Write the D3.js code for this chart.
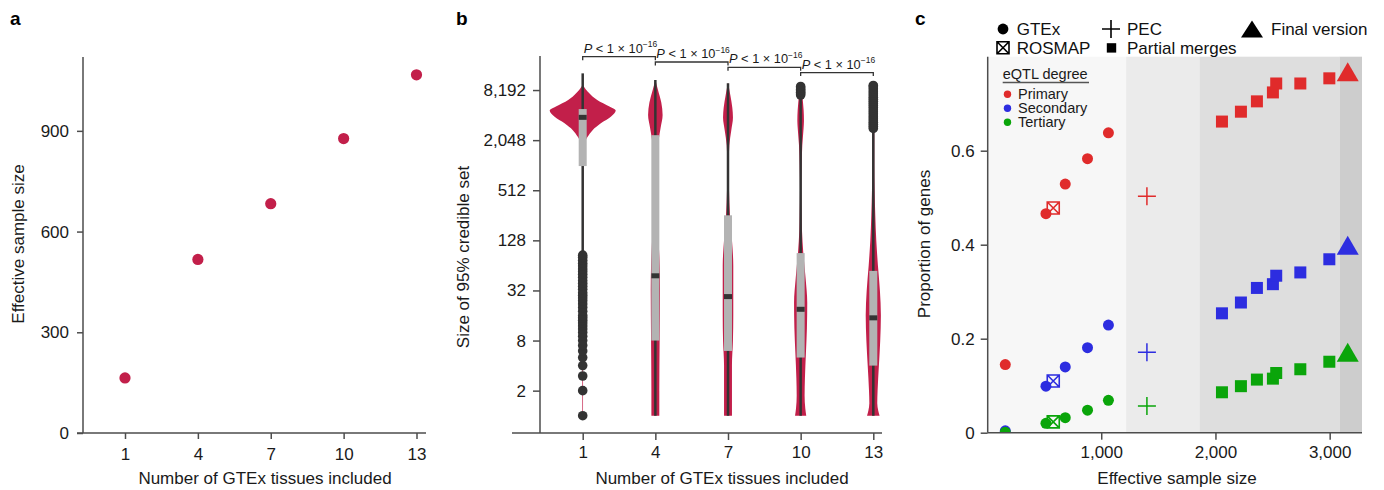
<!DOCTYPE html>
<html><head><meta charset="utf-8">
<script src="https://cdn.jsdelivr.net/npm/d3@7"></script>
<style>
body{margin:0;background:#fff}
svg{display:block;font-family:"Liberation Sans",Arial,Helvetica,sans-serif}
</style></head><body>
<svg id="chart" width="1384" height="490"></svg>
<script>
// ---------------- DATA ----------------
// Panel a
const tissues = [1, 4, 7, 10, 13];
const effectiveSampleSize = [164, 517, 683, 877, 1067];
const aYTicks = [0, 300, 600, 900];

// Panel b (size of 95% credible set, log2 axis)
const bYTicks = [2, 8, 32, 128, 512, 2048, 8192];
const bYTickLabels = ["2", "8", "32", "128", "512", "2,048", "8,192"];
const medianSize = [3850, 48, 27, 19, 15];
const q1Size = [1000, 8, 6, 5, 4];
const q3Size = [4840, 2350, 256, 90, 55];
const whiskerLow = [90, 1, 1, 1, 1];
const whiskerHigh = [13000, 10800, 9900, 6900, 2700];
// violin outlines: set sizes and relative half-widths
const violin1Size = [9410, 7485, 6208, 5184, 4640, 3929, 3258, 2702, 2257, 2048, 1663, 1024, 128, 1];
const violin1Width = [0, 0.2, 0.44, 0.81, 1.0, 0.86, 0.55, 0.3, 0.15, 0.09, 0.04, 0.02, 0.015, 0.01];
const violin4Size = [10809, 8192, 5793, 4096, 2896, 2048, 1024, 256, 64, 32, 8, 2, 1];
const violin4Width = [0, 0.08, 0.18, 0.22, 0.16, 0.1, 0.06, 0.07, 0.13, 0.14, 0.13, 0.12, 0.12];
const violin7Size = [10086, 7131, 5043, 3822, 2702, 1783, 1024, 512, 256, 128, 64, 32, 16, 8, 4, 2, 1];
const violin7Width = [0, 0.07, 0.13, 0.15, 0.1, 0.04, 0.02, 0.03, 0.06, 0.12, 0.16, 0.16, 0.16, 0.15, 0.12, 0.12, 0.12];
const violin10Size = [10086, 7131, 4705, 3500, 2896, 1783, 1024, 512, 256, 169, 91, 45, 23, 11.3, 5.66, 2.83, 1.74, 1.23, 1];
const violin10Width = [0.02, 0.05, 0.09, 0.1, 0.09, 0.05, 0.03, 0.02, 0.03, 0.04, 0.08, 0.15, 0.2, 0.19, 0.16, 0.13, 0.12, 0.14, 0.17];
const violin13Size = [10086, 4096, 2048, 1024, 512, 256, 128, 64, 32, 16, 8, 4, 2, 1.41, 1.15, 1];
const violin13Width = [0.02, 0.03, 0.03, 0.03, 0.04, 0.06, 0.09, 0.14, 0.2, 0.23, 0.21, 0.17, 0.13, 0.12, 0.15, 0.19];
const outliers1 = [1, 2, 3, 4, 5, 6, 7, 8, 9, 10, 11, 12, 13, 14, 15, 16, 18, 20, 22, 24, 26, 28, 30, 33, 36, 39, 42, 46, 50, 54, 58, 63, 68, 74, 80, 85];
const outliers10 = [7130, 7400, 7700, 8000, 8300, 8650, 9050];
const outliers13 = [2830, 3000, 3180, 3370, 3570, 3780, 4000, 4240, 4490, 4760, 5040, 5340, 5660, 6000, 6350, 6730, 7130, 7550, 8000, 8480, 8980, 9300];
const comparisonFrom = [1, 4, 7, 10];
const comparisonTo = [4, 7, 10, 13];

// Panel c
const cXTicks = [1000, 2000, 3000];
const cXTickLabels = ["1,000", "2,000", "3,000"];
const cYTicks = [0, 0.2, 0.4, 0.6];
const cYTickLabels = ["0", "0.2", "0.4", "0.6"];
const bandEdges = [0, 1218, 1860, 3086, 3283];
const degreeNames = ["Primary", "Secondary", "Tertiary"];
const gtexSize = [160, 516, 685, 880, 1063];
const gtexPrimary = [0.145, 0.466, 0.529, 0.583, 0.638];
const gtexSecondary = [0.004, 0.099, 0.140, 0.181, 0.229];
const gtexTertiary = [0.001, 0.020, 0.032, 0.048, 0.069];
const rosmapSize = 580;
const rosmapValues = [0.478, 0.110, 0.023];
const pecSize = 1400;
const pecValues = [0.503, 0.171, 0.057];
const partialSize = [2057, 2223, 2363, 2503, 2532, 2743, 2997];
const partialPrimary = [0.662, 0.683, 0.705, 0.724, 0.743, 0.743, 0.754];
const partialSecondary = [0.254, 0.277, 0.308, 0.316, 0.334, 0.341, 0.369];
const partialTertiary = [0.086, 0.099, 0.113, 0.115, 0.127, 0.135, 0.151];
const finalSize = 3158;
const finalValues = [0.768, 0.399, 0.171];

// ---------------- STYLE ----------------
const crimson = "#c21f4a";
const boxGray = "#b3b3b3";
const dark = "#333333";
const axisColor = "#4d4d4d";
const seriesColors = ["#e02b2b", "#2d2de0", "#0aa50a"];
const bandShades = ["#f7f7f7", "#ebebeb", "#dedede", "#cdcdcd"];
const FS = 17;

const svg = d3.select("#chart");
svg.append("rect").attr("width", 1384).attr("height", 490).attr("fill", "#fff");

function styleAxis(g) {
  g.select(".domain").remove();
  g.selectAll(".tick line").attr("stroke", axisColor).attr("stroke-width", 1.5);
  g.selectAll(".tick text").attr("fill", "#1a1a1a").style("font-size", FS + "px")
    .style("font-family", '"Liberation Sans",Arial,sans-serif');
}
function axisLine(x1, y1, x2, y2) {
  svg.append("line").attr("x1", x1).attr("y1", y1).attr("x2", x2).attr("y2", y2)
    .attr("stroke", axisColor).attr("stroke-width", 1.5);
}
function title(x, y, txt, rotate) {
  const t = svg.append("text").attr("text-anchor", "middle").style("font-size", FS + "px").attr("fill", "#1a1a1a").text(txt);
  if (rotate) t.attr("transform", `translate(${x},${y}) rotate(-90)`);
  else t.attr("x", x).attr("y", y);
}
function panelLabel(x, y, txt) {
  svg.append("text").attr("x", x).attr("y", y).style("font-size", "19px").style("font-weight", "bold").text(txt);
}

// ---------------- PANEL A ----------------
panelLabel(10, 25, "a");
const xA = d3.scaleLinear().domain([1, 13]).range([125, 416.5]);
const yA = d3.scaleLinear().domain([0, 1120]).range([433, 57]);
axisLine(83, 57, 83, 433);
axisLine(77, 433, 426, 433);
svg.append("g").attr("transform", "translate(83,0)")
  .call(d3.axisLeft(yA).tickValues(aYTicks).tickSize(6).tickPadding(8)).call(styleAxis);
svg.append("g").attr("transform", "translate(0,433)")
  .call(d3.axisBottom(xA).tickValues(tissues).tickSize(6).tickPadding(9)).call(styleAxis);
svg.append("g").selectAll("circle").data(tissues).join("circle")
  .attr("cx", d => xA(d)).attr("cy", (d, i) => yA(effectiveSampleSize[i]))
  .attr("r", 5.6).attr("fill", crimson);
title(24, 244, "Effective sample size", true);
title(265, 484, "Number of GTEx tissues included", false);

// ---------------- PANEL B ----------------
panelLabel(456, 25, "b");
const xB = d3.scaleLinear().domain([1, 13]).range([582.7, 873.3]);
const yB = d3.scaleLog().base(2).domain([1, 8192]).range([415.7, 90.05]);
const wB = d3.scaleLinear().domain([0, 1]).range([0, 33]);
axisLine(540, 56, 540, 433);
axisLine(512, 433, 882, 433);
svg.append("g").attr("transform", "translate(540,0)")
  .call(d3.axisLeft(yB).tickValues(bYTicks).tickFormat((d, i) => bYTickLabels[i]).tickSize(7).tickPadding(7)).call(styleAxis);
svg.append("g").attr("transform", "translate(0,433)")
  .call(d3.axisBottom(xB).tickValues(tissues).tickSize(7).tickPadding(6)).call(styleAxis);

const violinSizes = [violin1Size, violin4Size, violin7Size, violin10Size, violin13Size];
const violinWidths = [violin1Width, violin4Width, violin7Width, violin10Width, violin13Width];
const outlierSets = [outliers1, [], [], outliers10, outliers13];
const gB = svg.append("g");
tissues.forEach((t, i) => {
  const pts = violinSizes[i].map((s, k) => ({ s, w: violinWidths[i][k] }));
  const area = d3.area().curve(d3.curveMonotoneY)
    .y(d => yB(d.s)).x0(d => xB(t) - wB(d.w)).x1(d => xB(t) + wB(d.w));
  gB.append("path").attr("d", area(pts)).attr("fill", crimson);
  // whisker
  gB.append("line").attr("x1", xB(t)).attr("x2", xB(t))
    .attr("y1", yB(whiskerHigh[i])).attr("y2", yB(whiskerLow[i]))
    .attr("stroke", dark).attr("stroke-width", 2.5);
  // box
  gB.append("rect").attr("x", xB(t) - 4).attr("width", 8)
    .attr("y", yB(q3Size[i])).attr("height", yB(q1Size[i]) - yB(q3Size[i]))
    .attr("fill", boxGray);
  // median
  gB.append("rect").attr("x", xB(t) - 4).attr("width", 8)
    .attr("y", yB(medianSize[i]) - 2.5).attr("height", 5).attr("fill", dark);
  // outliers
  gB.append("g").selectAll("circle").data(outlierSets[i]).join("circle")
    .attr("cx", xB(t)).attr("cy", d => yB(d)).attr("r", 4.8).attr("fill", dark);
});
// p-value brackets
comparisonFrom.forEach((a, i) => {
  const b = comparisonTo[i];
  const y = 56.7 + i * 5.3;
  gB.append("path").attr("d", `M${xB(a)},${y + 3.5}V${y}H${xB(b)}V${y + 3.5}`)
    .attr("fill", "none").attr("stroke", dark).attr("stroke-width", 1.3);
  const t = gB.append("text").attr("x", xB(a) + 1).attr("y", y - 4).style("font-size", "12.8px").attr("fill", "#1a1a1a");
  t.append("tspan").style("font-style", "italic").text("P");
  t.append("tspan").text(" < 1 × 10");
  t.append("tspan").attr("dy", -5.5).style("font-size", "8.5px").text("−16");
});
title(469, 257, "Size of 95% credible set", true);
title(722, 484, "Number of GTEx tissues included", false);

// ---------------- PANEL C ----------------
panelLabel(915, 25, "c");
const xC = d3.scaleLinear().domain([0, 3283]).range([987, 1362]);
const yC = d3.scaleLinear().domain([0, 0.8]).range([432.7, 56.7]);
const gC = svg.append("g");
svg.append("clipPath").attr("id", "clipC").append("rect")
  .attr("x", 987).attr("y", 56.7).attr("width", 375).attr("height", 376);
// background bands
gC.selectAll("rect.band").data(bandEdges.slice(0, -1)).join("rect").attr("class", "band")
  .attr("x", (d) => xC(d)).attr("width", (d, i) => xC(bandEdges[i + 1]) - xC(d))
  .attr("y", yC(0.8)).attr("height", yC(0) - yC(0.8)).attr("fill", (d, i) => bandShades[i]);

const plot = gC.append("g").attr("clip-path", "url(#clipC)");
const rosPath = "M-6,-6H6V6H-6Z M-6,-6L6,6 M6,-6L-6,6";
const plusPath = "M-9,0H9 M0,-9V9";
const triPath = "M0,-9.5L11,9.5L-11,9.5Z";
const gtexSeries = [gtexPrimary, gtexSecondary, gtexTertiary];
const partialSeries = [partialPrimary, partialSecondary, partialTertiary];
// ROSMAP
rosmapValues.forEach((v, k) => {
  plot.append("path").attr("d", rosPath).attr("transform", `translate(${xC(rosmapSize)},${yC(v)})`)
    .attr("fill", "none").attr("stroke", seriesColors[k]).attr("stroke-width", 1.6);
});
// GTEx
gtexSeries.forEach((ser, k) => {
  plot.append("g").selectAll("circle").data(ser).join("circle")
    .attr("cx", (d, i) => xC(gtexSize[i])).attr("cy", d => yC(d)).attr("r", 5.5).attr("fill", seriesColors[k]);
});
// PEC
pecValues.forEach((v, k) => {
  plot.append("path").attr("d", plusPath).attr("transform", `translate(${xC(pecSize)},${yC(v)})`)
    .attr("fill", "none").attr("stroke", seriesColors[k]).attr("stroke-width", 1.5);
});
// partial merges
partialSeries.forEach((ser, k) => {
  plot.append("g").selectAll("rect").data(ser).join("rect")
    .attr("x", (d, i) => xC(partialSize[i]) - 6).attr("y", d => yC(d) - 6)
    .attr("width", 12).attr("height", 12).attr("fill", seriesColors[k]);
});
// final version
finalValues.forEach((v, k) => {
  plot.append("path").attr("d", triPath).attr("transform", `translate(${xC(finalSize)},${yC(v)})`)
    .attr("fill", seriesColors[k]);
});
// axes
axisLine(987.7, 56.7, 987.7, 432.7);
axisLine(987.7, 432.7, 1362, 432.7);
svg.append("g").attr("transform", "translate(987.7,0)")
  .call(d3.axisLeft(yC).tickValues(cYTicks).tickFormat((d, i) => cYTickLabels[i]).tickSize(7).tickPadding(6)).call(styleAxis);
svg.append("g").attr("transform", "translate(0,432.7)")
  .call(d3.axisBottom(xC).tickValues(cXTicks).tickFormat((d, i) => cXTickLabels[i]).tickSize(7).tickPadding(6)).call(styleAxis);
title(930, 244, "Proportion of genes", true);
title(1177, 484, "Effective sample size", false);

// inner legend (eQTL degree)
const lg = svg.append("g").style("font-size", "14.5px").attr("fill", "#1a1a1a");
lg.append("text").attr("x", 1002.7).attr("y", 79).text("eQTL degree");
lg.append("line").attr("x1", 1002.7).attr("x2", 1089).attr("y1", 82.5).attr("y2", 82.5)
  .attr("stroke", "#555").attr("stroke-width", 1.5);
degreeNames.forEach((n, k) => {
  const cy = 94.3 + k * 14;
  lg.append("circle").attr("cx", 1007.5).attr("cy", cy).attr("r", 3.7).attr("fill", seriesColors[k]);
  lg.append("text").attr("x", 1018).attr("y", cy + 5).text(n);
});

// top legend (data sources)
const tl = svg.append("g").style("font-size", FS + "px").attr("fill", "#111");
tl.append("circle").attr("cx", 1003).attr("cy", 29).attr("r", 5.4).attr("fill", "#000");
tl.append("text").attr("x", 1016.7).attr("y", 35).text("GTEx");
tl.append("path").attr("d", plusPath).attr("transform", "translate(1111,29)").attr("stroke", "#000").attr("stroke-width", 1.6);
tl.append("text").attr("x", 1127).attr("y", 35).text("PEC");
tl.append("path").attr("d", "M0,-8.5L11,8.5L-11,8.5Z").attr("transform", "translate(1252,29)").attr("fill", "#000");
tl.append("text").attr("x", 1271).attr("y", 35).text("Final version");
tl.append("path").attr("d", rosPath).attr("transform", "translate(1003,47.7)").attr("fill", "none").attr("stroke", "#000").attr("stroke-width", 1.6);
tl.append("text").attr("x", 1016.7).attr("y", 53.5).text("ROSMAP");
tl.append("rect").attr("x", 1106.8).attr("y", 43.2).attr("width", 9.4).attr("height", 9.4).attr("fill", "#000");
tl.append("text").attr("x", 1127).attr("y", 53.5).text("Partial merges");
</script>
</body></html>
